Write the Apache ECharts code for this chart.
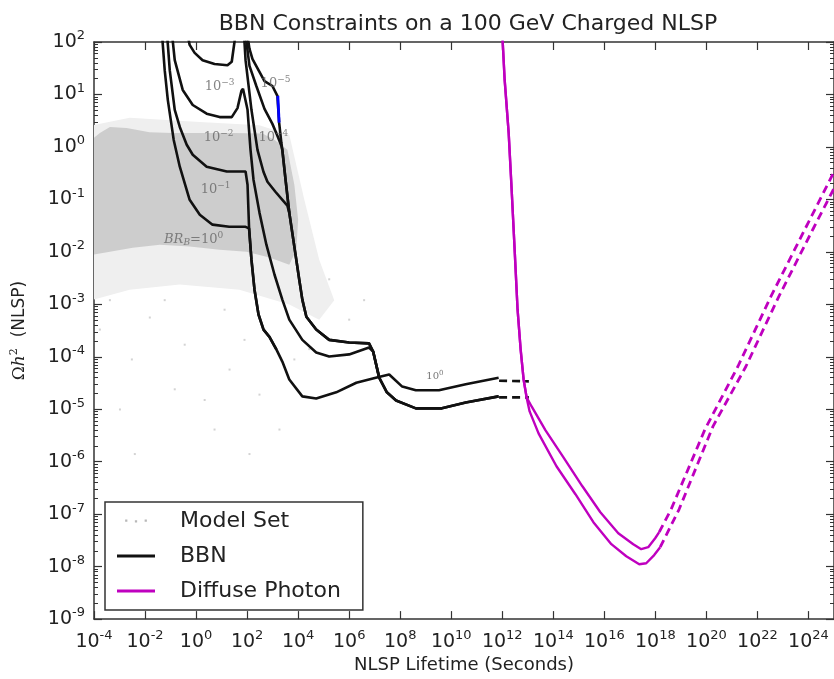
<!DOCTYPE html>
<html>
<head>
<meta charset="utf-8">
<script src="https://cdn.jsdelivr.net/npm/echarts@6/dist/echarts.min.js"></script>
<style>
  html, body { margin: 0; padding: 0; background: #fff; }
  #chart { width: 834px; height: 679px; }
</style>
</head>
<body>
<div id="chart"></div>
<script>
// Points are [lifetime in seconds, relic abundance Ωh²].

// Axis ranges
const xRange = [1e-4, 1e25];
const yRange = [1e-9, 1e2];

// Dense core of the scanned model set (outline)
const modelCore = [
  [1e-4, 1.5], [1.7e-4, 1.85], [4.2e-4, 2.4], [1.9e-3, 2.3], [1.5e-2, 1.9], [1.2e-1, 1.85],
  [1.4, 1.85], [27, 1.85], [4.0e2, 1.8], [1.2e3, 1.36], [3.8e3, 0.88], [7.1e3, 0.19],
  [1.0e4, 4.1e-2], [8.5e3, 1.1e-2], [4.5e3, 5.7e-3], [7.5e2, 7.8e-3], [95, 1.0e-2],
  [8.4, 1.1e-2], [5.6e-1, 1.26e-2], [3.8e-2, 1.37e-2], [3.3e-3, 1.2e-2], [4.2e-4, 1.0e-2],
  [1e-4, 8.9e-3]
];
// Thinner fringe of the model set around the core
const modelFringe = [
  [1e-4, 2.63], [2.5e-3, 3.6], [1.4, 3.0], [3.0e2, 2.6], [4.5e3, 1.7], [1.75e4, 9.8e-2],
  [6.7e4, 7.1e-3], [2.6e5, 1.2e-3], [6.7e4, 5.1e-4], [4.5e3, 9.9e-4], [50, 1.9e-3],
  [2.3e-1, 2.38e-3], [2.5e-3, 1.9e-3], [1e-4, 1.23e-3]
];
// Isolated models below the main cloud
const modelSparse = [
  [1.7e-4, 3.3e-4], [1.04e-3, 9.9e-6], [3.05e-3, 8.9e-5], [1.54e-2, 5.6e-4], [0.359, 1.7e-4],
  [5.3, 4.1e-6], [20.5, 5.7e-5], [79, 2.1e-4], [3.98e-3, 1.4e-6], [0.146, 2.4e-5],
  [305, 1.9e-5], [1e6, 5.1e-4], [7.1e3, 8.9e-5], [1.85e3, 4.1e-6], [2.17, 1.5e-5],
  [1.65e5, 3.0e-3], [2.74e4, 1.4e-4], [4.2e-4, 1.2e-3], [5.9e-2, 1.2e-3], [13.1, 7.9e-4],
  [3.85e6, 1.2e-3], [124, 1.4e-6]
];

// BBN limits for hadronic branching ratios 10^0 ... 10^-5
const bbnBr0 = [
  [4.5e-2, 170], [5.9e-2, 29], [7.8e-2, 7.9], [1.33e-1, 1.36], [2.3e-1, 0.42], [5.6e-1, 9.8e-2],
  [1.4, 5.1e-2], [4.4, 3.3e-2], [20, 3.0e-2], [87, 3.0e-2], [1.19e2, 2.8e-2], [1.48e2, 7.1e-3],
  [1.95e2, 1.9e-3], [2.8e2, 6.4e-4], [4.4e2, 3.3e-4], [7.5e2, 2.4e-4], [1.4e3, 1.38e-4],
  [2.4e3, 8.1e-5], [4.5e3, 3.7e-5], [1.46e4, 1.76e-5], [5.1e4, 1.6e-5], [3.1e5, 2.1e-5],
  [1.9e6, 3.2e-5], [1.1e7, 4.0e-5], [3.7e7, 4.6e-5], [1.2e8, 2.7e-5], [4.1e8, 2.3e-5],
  [3.3e9, 2.3e-5], [3.7e10, 3.0e-5], [7.2e11, 4.0e-5]
];
const bbnBr1 = [
  [7.1e-2, 170], [9.3e-2, 29], [1.46e-1, 5.1], [2.3e-1, 2.4], [4.3e-1, 1.1], [7.4e-1, 0.71],
  [2.6, 0.42], [16, 0.34], [87, 0.34], [1.04e2, 0.19], [1.19e2, 3.0e-2], [1.48e2, 7.1e-3],
  [1.95e2, 1.9e-3], [2.8e2, 6.4e-4], [4.4e2, 3.3e-4], [7.5e2, 2.4e-4], [1.4e3, 1.38e-4]
];
const bbnBr2 = [
  [1.1e-1, 170], [1.46e-1, 45], [3.0e-1, 12.2], [7.4e-1, 6.3], [2.6, 4.3], [8.4, 3.7], [25, 3.7],
  [42, 5.5], [60, 11.7], [69, 12.8], [95, 6.3], [1.04e2, 5.1], [1.36e2, 0.88], [1.78e2, 0.237],
  [3.05e2, 5.6e-2], [5.7e2, 1.37e-2], [1.18e3, 3.7e-3], [2.4e3, 1.23e-3], [4.5e3, 5.1e-4],
  [1.46e4, 2.1e-4], [5.1e4, 1.21e-4], [1.65e5, 1.01e-4], [1e6, 1.11e-4], [6e6, 1.5e-4],
  [8.7e6, 1.26e-4], [1.5e7, 4.0e-5], [3.0e7, 2.1e-5], [6.9e7, 1.47e-5], [4.1e8, 1.04e-5],
  [4.3e9, 1.04e-5], [3.7e10, 1.35e-5], [7.2e11, 1.76e-5]
];
const bbnBr3 = [
  [4.3e-1, 170], [5.6e-1, 88], [8.8e-1, 62], [1.8, 45], [5.3, 38], [17, 36], [25, 42], [32, 100],
  [38, 210], [72, 210], [87, 45], [1.48e2, 5.1], [2.55e2, 0.88], [4.37e2, 0.336], [6.27e2, 0.217],
  [1.285e3, 0.14], [2.415e3, 0.098], [3.785e3, 7.6e-2], [4.5e3, 5.6e-2], [7.1e3, 1.26e-2],
  [1.1e4, 3.0e-3], [1.46e4, 1.23e-3], [2.1e4, 5.8e-4], [5.1e4, 3.3e-4], [1.65e5, 2.1e-4],
  [1e6, 1.87e-4], [6e6, 1.8e-4], [8.7e6, 1.26e-4], [1.5e7, 4.0e-5]
];
const bbnBr4 = [
  [87, 170], [95, 96], [1.24e2, 35], [2.3e2, 14.5], [4.8e2, 5.3], [9.8e2, 2.75], [1.54e3, 1.63],
  [2.2e3, 1.05], [2.4e3, 0.88], [3.2e3, 0.24], [4.5e3, 5.6e-2], [7.1e3, 1.26e-2], [1.1e4, 3.0e-3],
  [1.46e4, 1.23e-3], [2.1e4, 5.8e-4], [5.1e4, 3.3e-4], [1.65e5, 2.1e-4], [1e6, 1.87e-4],
  [6e6, 1.8e-4], [8.7e6, 1.26e-4], [1.5e7, 4.0e-5], [3.0e7, 2.1e-5], [6.9e7, 1.47e-5],
  [4.1e8, 1.04e-5], [4.3e9, 1.04e-5], [3.7e10, 1.35e-5], [7.2e11, 1.76e-5]
];
const bbnBr5 = [
  [95, 170], [1.24e2, 74], [1.63e2, 47], [4.8e2, 18], [9.8e2, 14.5], [1.54e3, 9.4],
  [1.8e3, 2.9], [2.2e3, 1.2], [2.4e3, 0.88], [3.2e3, 0.24], [4.5e3, 5.6e-2]
];
// Short highlighted stretch on the 10^-5 curve
const bbnHighlight = [[1.6e3, 9.4], [1.8e3, 2.9]];
// Dashed continuations past 10^12 s
const bbnTailUpper = [[7.5e11, 3.5e-5], [1.1e13, 3.4e-5]];
const bbnTailLower = [[7.5e11, 1.68e-5], [1.1e13, 1.68e-5]];

// Diffuse photon limits (common steep branch, then two bands)
const photonSteep = [
  [9.5e11, 170], [1.04e12, 100], [1.24e12, 18.9], [1.78e12, 1.85], [2.33e12, 0.153],
  [3.05e12, 1.1e-2], [3.98e12, 7.9e-4], [5.24e12, 1.38e-4], [6.85e12, 3.7e-5], [8.98e12, 1.68e-5]
];
const photonUpper = [
  [1.41e13, 1.13e-5], [4.96e13, 3.96e-6], [2.5e14, 1.21e-6], [1.38e15, 3.4e-7], [6.98e15, 1.09e-7],
  [3.52e16, 4.34e-8], [1.36e17, 2.68e-8], [2.79e17, 2.15e-8], [5.24e17, 2.35e-8], [9.8e17, 3.48e-8],
  [1.41e18, 4.54e-8]
];
const photonLower = [
  [1.18e13, 9.1e-6], [2.64e13, 3.47e-6], [1.33e14, 8.2e-7], [7.36e14, 2.4e-7], [3.72e15, 7.03e-8],
  [1.88e16, 2.68e-8], [7.24e16, 1.58e-8], [2.33e17, 1.11e-8], [4.37e17, 1.16e-8], [8.98e17, 1.66e-8],
  [1.54e18, 2.35e-8]
];
const photonUpperDash = [
  [1.41e18, 4.54e-8], [4.14e18, 1.24e-7], [8.8e19, 4.14e-6], [1.71e21, 6.53e-5],
  [3.34e22, 1.4e-3], [7.1e23, 2.64e-2], [1.38e25, 0.456]
];
const photonLowerDash = [
  [1.54e18, 2.35e-8], [8.5e18, 1.24e-7], [1.81e20, 4.72e-6], [3.52e21, 6.53e-5],
  [6.85e22, 1.4e-3], [1.46e24, 2.64e-2], [2.17e25, 0.336]
];

// Curve labels: position and text
const curveLabelPos = [[8.4, 14], [7.6, 1.5], [5.8, 0.153], [0.8, 1.7e-2], [1.3e3, 16], [1.07e3, 1.5], [2.3e9, 4.2e-5]];
const curveLabelText = [
  '{n|10}{e|−3}', '{n|10}{e|−2}', '{n|10}{e|−1}', '{i|BR}{sub|B}{n|=10}{e|0}',
  '{n|10}{e|−5}', '{n|10}{e|−4}', '{s|10}{se|0}'
];

const BLACK = '#111111';
const MAGENTA = '#bf00bf';
const AXIS = '#333333';

function outline(points, fill) {
  return {
    type: 'custom',
    name: 'Model Set',
    coordinateSystem: 'cartesian2d',
    data: points,
    encode: { x: 0, y: 1 },
    silent: true,
    clip: true,
    itemStyle: { color: '#b8b8b8' },
    renderItem: function (params, api) {
      if (params.dataIndex !== 0) return null;
      return {
        type: 'polygon',
        shape: { points: points.map(function (p) { return api.coord(p); }) },
        style: { fill: fill }
      };
    }
  };
}

function bbn(data, dashed) {
  return {
    type: 'line', name: 'BBN', data: data, symbol: 'none', silent: true,
    lineStyle: { color: BLACK, width: 2.6, type: dashed ? [8, 5] : 'solid' },
    itemStyle: { color: BLACK }
  };
}
function photon(data, dashed) {
  return {
    type: 'line', name: 'Diffuse Photon', data: data, symbol: 'none', silent: true,
    lineStyle: { color: MAGENTA, width: dashed ? 2.8 : 2.4, type: dashed ? [8, 5] : 'solid' },
    itemStyle: { color: MAGENTA }
  };
}

const powerLabel = {
  formatter: function (v) {
    const e = Math.round(Math.log10(v));
    return '{b|10}{e|' + e + '}';
  },
  rich: {
    b: { fontFamily: 'DejaVu Sans', fontSize: 19, color: '#222' },
    e: { fontFamily: 'DejaVu Sans', fontSize: 13, color: '#222', padding: [0, 0, 12, 0] }
  }
};

const chart = echarts.init(document.getElementById('chart'), null, { renderer: 'canvas' });

chart.setOption({
  animation: false,
  backgroundColor: '#ffffff',
  title: {
    text: 'BBN Constraints on a 100 GeV Charged NLSP',
    left: 463, top: 8, textAlign: 'center',
    textStyle: { fontFamily: 'DejaVu Sans', fontSize: 22, fontWeight: 'normal', color: '#222' }
  },
  grid: { left: 94, right: -2, top: 42, bottom: 59, containLabel: false },
  legend: {
    orient: 'vertical', left: 105, top: 502,
    data: [
      { name: 'Model Set', icon: 'path://M0,0h3v3h-3z M13,1h3v3h-3z M26,0h3v3h-3z' },
      { name: 'BBN', icon: 'rect' },
      { name: 'Diffuse Photon', icon: 'rect' }
    ],
    itemWidth: 38, itemHeight: 3, itemGap: 11,
    padding: [7, 22, 7, 12],
    borderColor: '#333', borderWidth: 1.5,
    backgroundColor: '#ffffff',
    selectedMode: false,
    textStyle: { fontFamily: 'DejaVu Sans', fontSize: 22, color: '#222', lineHeight: 24, padding: [0, 0, 0, 20] }
  },
  xAxis: [
    {
      type: 'log', logBase: 10, min: xRange[0], max: xRange[1], interval: 2,
      name: 'NLSP Lifetime (Seconds)', nameLocation: 'middle', nameGap: 36,
      nameTextStyle: { fontFamily: 'DejaVu Sans', fontSize: 18, color: '#222' },
      axisLine: { show: true, lineStyle: { color: AXIS, width: 1.5 } },
      axisTick: { show: true, inside: true, length: 8, lineStyle: { color: AXIS, width: 1.2 } },
      axisLabel: Object.assign({ margin: 10, showMaxLabel: false }, powerLabel),
      splitLine: { show: false }
    },
    {
      type: 'log', logBase: 10, min: xRange[0], max: xRange[1], interval: 2, position: 'top',
      axisLine: { show: true, lineStyle: { color: AXIS, width: 1.5 } },
      axisTick: { show: true, inside: true, length: 8, lineStyle: { color: AXIS, width: 1.2 } },
      axisLabel: { show: false },
      splitLine: { show: false }
    }
  ],
  yAxis: [
    {
      type: 'log', logBase: 10, min: yRange[0], max: yRange[1], interval: 1,
      name: '{m|Ω}{i|h}{s|2}{n|  (NLSP)}', nameLocation: 'middle', nameGap: 64, nameRotate: 90,
      nameTextStyle: {
        rich: {
          m: { fontFamily: 'DejaVu Serif', fontSize: 17, color: '#222' },
          i: { fontFamily: 'DejaVu Serif', fontStyle: 'italic', fontSize: 17, color: '#222' },
          s: { fontFamily: 'DejaVu Serif', fontSize: 11, color: '#222', padding: [0, 0, 10, 0] },
          n: { fontFamily: 'DejaVu Sans', fontSize: 17, color: '#222' }
        }
      },
      axisLine: { show: true, lineStyle: { color: AXIS, width: 1.5 } },
      axisTick: { show: true, inside: true, length: 8, lineStyle: { color: AXIS, width: 1.2 } },
      minorTick: { show: true, splitNumber: 9, length: 4, lineStyle: { color: AXIS, width: 1 } },
      axisLabel: Object.assign({ margin: 9 }, powerLabel),
      splitLine: { show: false }, minorSplitLine: { show: false }
    },
    {
      type: 'log', logBase: 10, min: yRange[0], max: yRange[1], interval: 1, position: 'right',
      axisLine: { show: true, lineStyle: { color: AXIS, width: 1.5 } },
      axisTick: { show: true, inside: true, length: 8, lineStyle: { color: AXIS, width: 1.2 } },
      minorTick: { show: true, splitNumber: 9, length: 4, lineStyle: { color: AXIS, width: 1 } },
      axisLabel: { show: false },
      splitLine: { show: false }, minorSplitLine: { show: false }
    }
  ],
  series: [
    outline(modelFringe, '#efefef'),
    outline(modelCore, '#cdcdcd'),
    {
      type: 'scatter', name: 'Model Set', data: modelSparse, symbol: 'rect', symbolSize: 2,
      silent: true, itemStyle: { color: '#c8c8c8' }
    },
    bbn(bbnBr0), bbn(bbnBr1), bbn(bbnBr2), bbn(bbnBr3), bbn(bbnBr4), bbn(bbnBr5),
    bbn(bbnTailUpper, true), bbn(bbnTailLower, true),
    {
      type: 'line', name: 'highlight', data: bbnHighlight, symbol: 'none', silent: true,
      lineStyle: { color: '#0000ff', width: 2.8 }, z: 3
    },
    photon(photonSteep.concat(photonUpper)),
    photon(photonSteep.concat(photonLower)),
    photon(photonUpperDash, true),
    photon(photonLowerDash, true),
    {
      type: 'scatter', name: 'curve labels', symbolSize: 0, silent: true, z: 4,
      data: curveLabelPos.map(function (p, i) {
        return { value: p, label: { formatter: curveLabelText[i] } };
      }),
      label: {
        show: true, position: 'inside',
        rich: {
          n: { fontFamily: 'DejaVu Serif', fontSize: 13, color: '#666' },
          e: { fontFamily: 'DejaVu Serif', fontSize: 9, color: '#666', padding: [0, 0, 8, 0] },
          i: { fontFamily: 'DejaVu Serif', fontStyle: 'italic', fontSize: 13, color: '#666' },
          sub: { fontFamily: 'DejaVu Serif', fontStyle: 'italic', fontSize: 9, color: '#666', padding: [6, 0, 0, 0] },
          s: { fontFamily: 'DejaVu Serif', fontSize: 10, color: '#555' },
          se: { fontFamily: 'DejaVu Serif', fontSize: 7, color: '#555', padding: [0, 0, 6, 0] }
        }
      }
    }
  ]
});
</script>
</body>
</html>
